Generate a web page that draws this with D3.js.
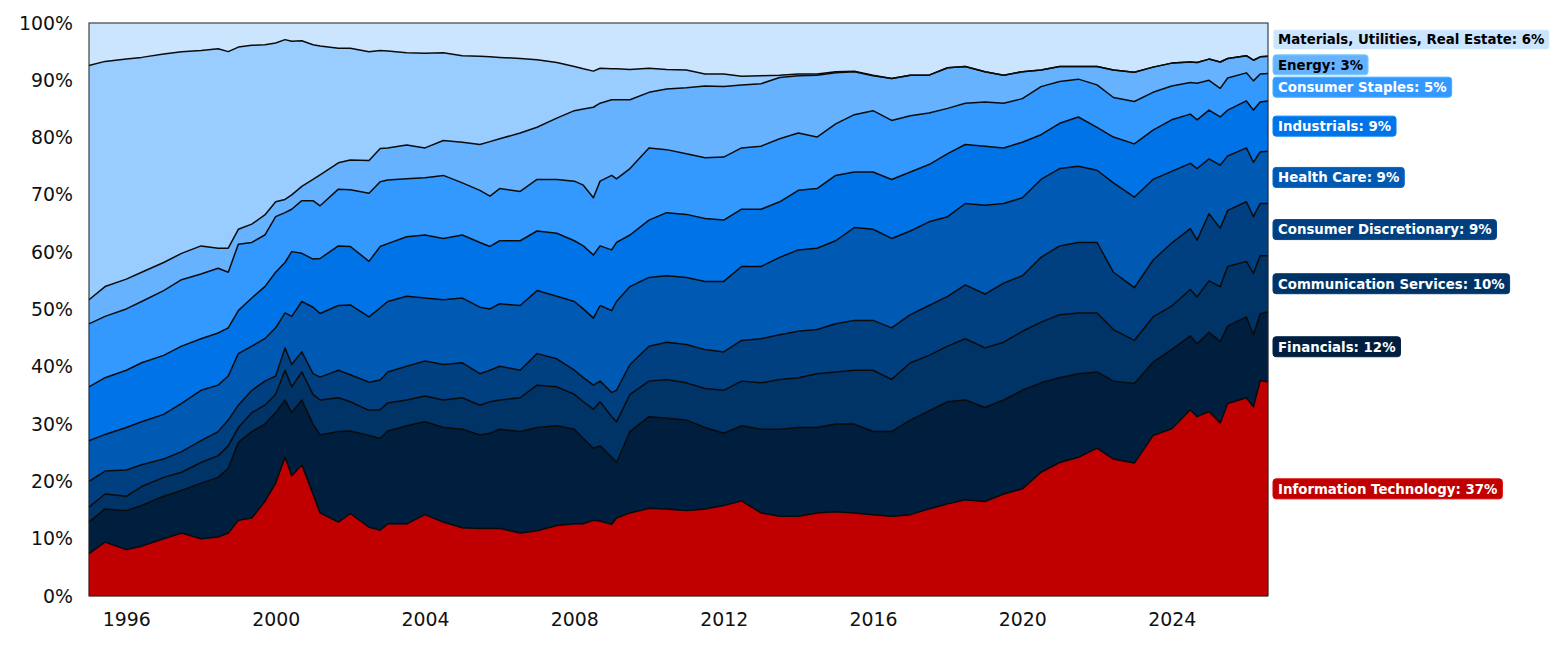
<!DOCTYPE html>
<html><head><meta charset="utf-8">
<script src="https://cdn.jsdelivr.net/npm/d3@7"></script>
<style>body{margin:0;background:#fff} text{font-family:"DejaVu Sans",sans-serif}</style>
</head><body><svg id="c" width="1560" height="646"></svg>
<script>
// decimal years of each observation
const dates = [1995.00,1995.43,1996.00,1996.41,1997.00,1997.48,1998.00,1998.46,1998.73,1999.00,
1999.36,1999.71,2000.00,2000.25,2000.43,2000.70,2001.00,2001.19,2001.68,2002.00,
2002.50,2002.80,2003.00,2003.51,2004.00,2004.49,2005.00,2005.47,2005.74,2006.00,
2006.55,2007.00,2007.53,2008.00,2008.24,2008.51,2008.69,2009.00,2009.13,2009.49,
2010.00,2010.47,2011.00,2011.50,2012.00,2012.48,2013.00,2013.50,2014.00,2014.50,
2015.00,2015.50,2016.00,2016.50,2017.00,2017.50,2018.00,2018.47,2019.00,2019.50,
2020.00,2020.50,2021.00,2021.50,2022.00,2022.44,2023.00,2023.50,2024.00,2024.50,
2024.68,2025.00,2025.30,2025.50,2026.00,2026.19,2026.37,2026.58];

const informationTechnology = [7.4,9.4,8.1,8.7,10.0,11.0,10.0,10.3,11.0,13.2,
13.6,16.5,19.7,24.2,21.0,22.9,17.8,14.5,12.9,14.4,
12.0,11.5,12.6,12.6,14.2,12.9,11.9,11.8,11.8,11.8,
11.0,11.4,12.3,12.6,12.6,13.2,13.1,12.5,13.6,14.5,
15.3,15.2,14.9,15.2,15.8,16.6,14.5,13.9,13.9,14.5,
14.7,14.5,14.2,13.9,14.2,15.2,16.1,16.8,16.5,17.8,
18.7,21.6,23.3,24.2,25.8,23.9,23.2,28.0,29.2,32.5,
31.3,32.2,30.2,33.6,34.6,33.0,37.6,37.4];

const financials = [5.5,5.8,6.8,7.1,7.4,7.4,9.7,10.4,11.3,13.6,
15.1,13.5,12.3,10.0,11.0,11.3,12.2,13.6,15.8,14.4,
16.0,16.0,16.2,17.1,16.2,16.5,17.2,16.3,16.6,17.3,
17.7,18.0,17.4,16.5,14.9,12.6,13.1,11.7,9.7,14.2,
16.0,15.8,15.8,14.2,12.6,13.1,14.6,15.2,15.5,14.9,
15.3,15.5,14.5,14.8,16.5,17.1,17.8,17.4,16.4,16.4,
17.2,15.6,14.8,14.6,13.3,13.6,13.9,12.8,13.8,12.9,
12.7,13.8,14.2,13.5,14.1,12.6,11.6,12.2];

const communicationServices = [2.6,2.6,2.5,3.3,3.3,3.2,3.6,3.8,3.9,2.6,
3.3,3.3,3.2,5.2,4.5,4.9,5.2,6.1,5.9,5.1,
4.4,5.0,4.9,4.5,4.5,4.8,5.5,5.2,5.5,5.1,
5.9,7.4,6.8,6.1,6.4,6.8,7.7,7.1,7.1,6.5,
6.2,6.8,6.5,6.8,7.5,7.8,8.1,8.7,8.7,9.4,
9.1,9.4,10.7,9.1,10.0,9.7,9.7,10.7,10.4,10.1,
10.3,10.6,11.0,10.6,10.3,9.0,7.5,7.9,7.6,8.1,
8.2,9.0,9.6,10.4,9.7,10.7,10.2,9.8];

const consumerDiscretionary = [4.5,4.0,4.6,3.8,3.2,3.6,3.8,4.2,4.5,3.9,
3.9,4.2,3.2,3.9,3.9,3.5,3.6,4.0,4.8,4.7,
4.9,5.2,5.4,5.9,6.1,6.2,6.1,5.5,5.5,5.9,
4.8,5.5,4.9,4.2,4.2,4.2,3.6,4.2,5.5,5.2,
6.1,6.5,6.7,6.8,6.7,7.1,7.7,7.8,8.1,7.7,
8.4,8.7,8.7,9.0,8.4,8.7,8.7,9.4,9.4,10.3,
9.7,11.3,12.0,12.3,12.3,10.0,9.2,9.9,11.0,10.6,
9.9,11.7,10.2,9.8,10.4,9.9,9.1,9.1];

const healthCare = [7.1,6.4,7.4,7.5,7.8,8.4,8.8,8.1,7.7,9.0,
7.7,7.4,8.4,6.1,8.4,8.8,11.6,11.1,11.3,12.2,
11.4,12.6,12.3,12.2,11.0,11.3,11.3,11.6,10.7,10.9,
11.3,11.0,10.9,12.0,12.0,11.7,13.2,14.3,15.5,13.6,
12.0,11.6,11.7,11.9,12.3,12.9,12.6,13.5,14.2,14.2,
14.5,16.2,15.9,15.6,14.6,14.6,13.9,14.2,15.5,13.9,
13.6,13.6,13.5,13.3,12.6,15.6,15.8,14.1,12.5,11.4,
12.5,9.6,11.0,9.5,9.4,9.5,9.0,9.1];

const industrials = [9.4,9.9,10.0,10.3,10.3,10.0,9.0,9.1,8.4,7.5,
8.4,9.1,9.7,8.8,11.3,8.4,8.4,9.6,10.4,10.2,
9.7,10.7,10.1,10.4,11.0,10.7,11.0,11.3,10.9,11.0,
11.3,10.4,11.0,10.6,11.0,11.0,10.4,10.6,10.3,9.0,
10.0,11.0,11.0,11.0,10.7,10.0,10.0,9.7,10.4,10.4,
11.4,9.7,10.0,10.3,10.3,10.0,11.0,10.3,10.3,9.7,
9.7,7.8,7.9,8.6,7.5,8.0,9.3,8.6,9.0,8.6,
8.5,8.5,8.4,8.0,8.2,9.1,8.7,8.8];

const consumerStaples = [11.0,10.7,10.7,10.7,11.3,11.6,11.3,11.3,9.7,11.6,
9.7,9.0,9.7,8.7,7.4,9.2,10.2,9.2,9.9,9.9,
11.9,11.3,11.1,10.1,10.0,11.0,9.1,9.1,8.8,9.1,
8.6,9.0,9.4,10.4,10.6,10.0,11.3,13.0,11.1,11.6,
12.6,11.0,10.6,10.6,11.0,10.7,11.0,11.0,10.0,9.0,
9.0,10.0,10.7,10.3,9.8,9.0,7.9,7.2,7.7,7.8,
7.6,8.4,7.3,6.6,7.4,6.9,7.4,6.6,5.9,5.5,
6.4,5.2,5.0,5.6,4.9,5.1,4.9,4.8];

const energy = [4.2,5.2,5.2,5.1,4.9,4.6,4.9,3.5,4.2,2.6,
3.2,3.5,2.6,2.3,2.5,2.5,3.7,5.4,4.6,5.2,
5.7,5.8,5.6,5.9,5.2,6.1,7.1,8.0,9.5,8.7,
10.2,9.1,10.7,12.3,13.3,15.8,13.6,13.2,13.8,12.0,
9.7,10.6,11.5,12.5,12.3,11.0,10.9,10.7,10.0,10.8,
8.9,7.5,6.1,7.3,7.1,6.6,7.1,6.4,5.3,4.9,
4.7,2.9,2.6,2.2,3.2,4.8,5.1,4.4,4.0,3.6,
3.6,3.7,4.6,3.4,3.0,3.6,3.0,3.0];

const other = [40.9,39.3,38.4,37.5,36.4,35.2,34.1,34.8,34.3,31.8,
31.2,29.7,27.7,27.9,26.8,25.4,23.5,22.5,20.0,19.5,
19.0,17.1,16.9,16.1,16.5,15.3,15.1,15.4,14.8,14.2,
13.0,11.8,9.7,7.7,7.0,6.3,6.1,5.4,5.4,5.3,
4.2,3.4,3.1,2.1,2.2,1.5,1.4,0.4,0.3,0.2,
0.2,0.1,0.1,0,0,0,0,0,0,0,
0,0,0,0,0,0,0,0,0,0,
0,0,0,0,0,0,0,0];

const materialsUtilitiesRealEstate = [7.4,6.7,6.3,6.0,5.4,5.0,4.8,4.5,5.0,4.2,
3.9,3.8,3.5,2.9,3.2,3.1,3.8,4.0,4.4,4.4,
5.0,4.8,4.9,5.2,5.3,5.2,5.7,5.8,5.9,6.0,
6.2,6.4,6.9,7.6,8.0,8.4,7.9,8.0,8.0,8.1,
7.9,8.1,8.2,8.9,8.9,9.3,9.2,9.1,8.9,8.9,
8.5,8.4,9.1,9.7,9.1,9.1,7.8,7.6,8.5,9.1,
8.5,8.2,7.6,7.6,7.6,8.2,8.6,7.7,7.0,6.8,
6.9,6.3,6.8,6.2,5.7,6.5,5.9,5.8];

const sectorNames = ["Information Technology","Financials","Communication Services","Consumer Discretionary",
  "Health Care","Industrials","Consumer Staples","Energy","Other","Materials, Utilities, Real Estate"];
const sectorSeries = [informationTechnology,financials,communicationServices,consumerDiscretionary,
  healthCare,industrials,consumerStaples,energy,other,materialsUtilitiesRealEstate];
const sectorColors = ["#c00000","#001f3f","#003366","#004080","#0059b3","#0073e6","#3399ff","#66b2ff","#99ccff","#cce5ff"];
const labelTextColors = ["#fff","#fff","#fff","#fff","#fff","#fff","#fff","#000","#000","#000"];
const yTicks = [0,10,20,30,40,50,60,70,80,90,100];
const xTicks = [1996,2000,2004,2008,2012,2016,2020,2024];

const m = {left:89, right:1268, top:23, bottom:596};
const svg = d3.select("#c");

const rows = dates.map((d,i)=>{
  const r = {date:d};
  sectorNames.forEach((n,k)=>{ r[n] = sectorSeries[k][i]; });
  return r;
});
const stack = d3.stack().keys(sectorNames).offset(d3.stackOffsetExpand);
const layers = stack(rows);

const x = d3.scaleLinear().domain([dates[0], dates[dates.length-1]]).range([m.left, m.right]);
const y = d3.scaleLinear().domain([0,1]).range([m.bottom, m.top]);

const area = d3.area().x(d=>x(d.data.date)).y0(d=>y(d[0])).y1(d=>y(d[1]));
const line = d3.line().x(d=>x(d.data.date)).y(d=>y(d[1]));

svg.append("g").selectAll("path").data(layers).join("path")
  .attr("d", area).attr("fill",(d,i)=>sectorColors[i]).attr("stroke",(d,i)=>sectorColors[i]).attr("stroke-width",0.5);

svg.append("g").selectAll("path").data(layers.slice(0,-1)).join("path")
  .attr("d", line).attr("fill","none").attr("stroke","#0a0a0a").attr("stroke-width",1.5).attr("stroke-linejoin","round");

// frame
svg.append("rect").attr("x",m.left).attr("y",m.top).attr("width",m.right-m.left).attr("height",m.bottom-m.top)
  .attr("fill","none").attr("stroke","#222").attr("stroke-width",1);

// y axis labels
const yAxis = svg.append("g").attr("transform",`translate(${m.left},0)`)
  .call(d3.axisLeft(y.copy().domain([0,100])).tickValues(yTicks).tickFormat(d=>d+"%").tickSize(0).tickPadding(16));
yAxis.select(".domain").remove();
yAxis.selectAll("text").attr("font-size","18.9px").attr("fill","#111").style("font-family","DejaVu Sans");

const xAxis = svg.append("g").attr("transform",`translate(0,${m.bottom})`)
  .call(d3.axisBottom(x).tickValues(xTicks).tickFormat(d3.format("d")).tickSize(0).tickPadding(17));
xAxis.select(".domain").remove();
xAxis.selectAll("text").attr("font-size","18.9px").attr("fill","#111").style("font-family","DejaVu Sans");

// end labels
const last = layers.map((L,i)=>{
  const p = L[L.length-1];
  return {i, name:sectorNames[i], val:(p[1]-p[0])*100, yc:y((p[0]+p[1])/2)};
}).filter(d=>Math.round(d.val)>0);
const gap = 17;
last.sort((a,b)=>a.yc-b.yc);
for(let k=1;k<last.length;k++){ if(last[k].yc-last[k-1].yc<gap) last[k].yc = last[k-1].yc+gap; }

const lg = svg.append("g");
last.forEach(d=>{
  const g = lg.append("g");
  const t = g.append("text").attr("x", m.right+10).attr("y", d.yc).attr("dy","0.36em")
    .attr("font-size","13.33px").attr("font-weight","bold").attr("fill",labelTextColors[d.i])
    .text(`${d.name}: ${Math.round(d.val)}%`);
  const w = t.node().getComputedTextLength();
  g.insert("rect","text").attr("x", m.right+5).attr("y", d.yc-10).attr("width", w+10).attr("height",20)
    .attr("rx",3).attr("fill",sectorColors[d.i])
    .attr("stroke", d3.color(sectorColors[d.i]).brighter(0.4)).attr("stroke-width",1);
});
</script></body></html>
